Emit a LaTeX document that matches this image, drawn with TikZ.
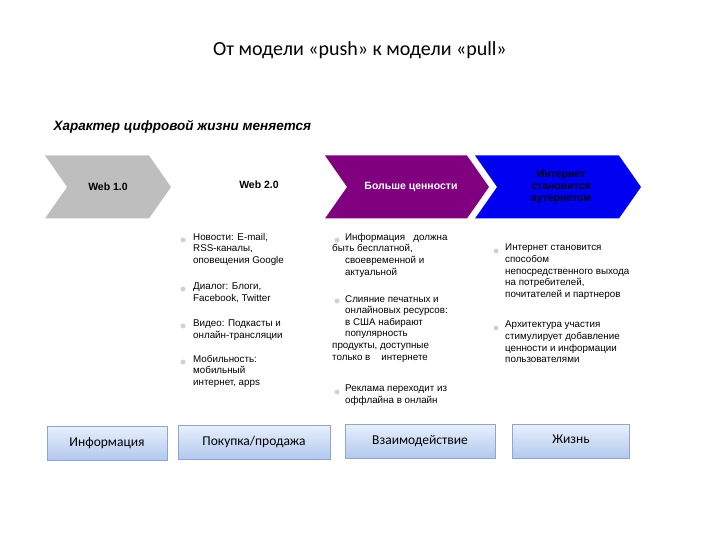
\documentclass[tikz,border=0pt]{standalone}
\usepackage{fontspec}
\setmainfont{Liberation Sans}
\newfontfamily\calfont{Carlito}
\usetikzlibrary{shapes.symbols}
\definecolor{gr}{RGB}{190,190,190}
\definecolor{pu}{RGB}{128,0,128}
\definecolor{bl}{RGB}{0,0,240}
\definecolor{bxa}{RGB}{232,240,252}
\definecolor{bxb}{RGB}{178,200,238}
\definecolor{bxl}{RGB}{140,165,210}
\begin{document}
\begin{tikzpicture}[x=1pt,y=-1pt,
 chev/.style={signal, signal to=east, signal from=west, signal pointer angle=110, minimum height=63, inner sep=0, font=\bfseries\fontsize{10.5}{12}\selectfont, align=center},
 box/.style={draw=bxl, top color=bxa, bottom color=bxb, minimum height=34, inner sep=0, font=\calfont\fontsize{13.5}{15}\selectfont},
 col/.style={anchor=north west, font=\fontsize{9.8}{11.6}\selectfont, align=left, inner sep=0},
 dot/.style={circle, fill=gr!70, minimum size=5, inner sep=0}]
\useasboundingbox (0,0) rectangle (720,540);
\node (t) at (360,50) {\calfont\fontsize{20}{24}\selectfont От модели «push» к модели «pull»};
\node[anchor=west] (s) at (50,127) {\bfseries\itshape\fontsize{13.5}{16}\selectfont Характер цифровой жизни меняется};
\node[chev, fill=gr, minimum width=126] (c1) at (108,187) {Web 1.0};
\node[chev, minimum width=150] (c2) at (255,187) {};
\node[font=\bfseries\fontsize{10.5}{12}\selectfont] (c2t) at (259,185) {Web 2.0};
\node[chev, fill=pu, text=white, minimum width=164] (c3) at (407,187) {\hspace{8pt}Больше ценности};
\node[chev, fill=bl, text=black!90!blue, minimum width=166] (c4) at (558,187) {\hspace{6pt}Интернет\\\hspace{6pt}становится\\\hspace{6pt}аутернетом};
% column 1
\node[dot] (d1) at (183,240) {}; \node[col] (a1) at (193,233) {Новости: E-mail,\\RSS-каналы,\\оповещения Google};
\node[dot] (d2) at (183,289) {}; \node[col] (a2) at (193,283) {Диалог: Блоги,\\Facebook, Twitter};
\node[dot] (d3) at (183,326) {}; \node[col] (a3) at (193,320) {Видео: Подкасты  и\\онлайн-трансляции};
\node[dot] (d4) at (183,362) {}; \node[col] (a4) at (193,355) {Мобильность:\\мобильный\\интернет, apps};
% column 2
\node[dot] (e1) at (337,240) {}; \node[col] (b1) at (332,233) {\hspace{13pt}Информация \ \ должна\\быть  бесплатной,\\\hspace{13pt}своевременной и\\\hspace{13pt}актуальной};
\node[dot] (e2) at (337,301) {}; \node[col] (b2) at (332,295) {\hspace{13pt}Слияние печатных и\\\hspace{13pt}онлайновых ресурсов:\\\hspace{13pt}в США набирают\\\hspace{13pt}популярность\\продукты,  доступные\\только в \ \ \ интернете};
\node[dot] (e3) at (337,392) {}; \node[col] (b3) at (332,385) {\hspace{13pt}Реклама переходит из\\\hspace{13pt}оффлайна в онлайн};
% column 3
\node[dot] (f1) at (496,251) {}; \node[col] (g1) at (505,244) {Интернет становится\\способом\\непосредственного выхода\\на потребителей,\\почитателей и партнеров};
\node[dot] (f2) at (496,328) {}; \node[col] (g2) at (505,321) {Архитектура участия\\стимулирует добавление\\ценности и информации\\пользователями};
% boxes
\node[box, minimum width=120] (h1) at (107,443) {Информация};
\node[box, minimum width=152] (h2) at (254,442) {Покупка/продажа};
\node[box, minimum width=150] (h3) at (420,441) {Взаимодействие};
\node[box, minimum width=117, anchor=north] (h4) at (571,424) {\raisebox{5pt}{Жизнь}};
\end{tikzpicture}
\end{document}
